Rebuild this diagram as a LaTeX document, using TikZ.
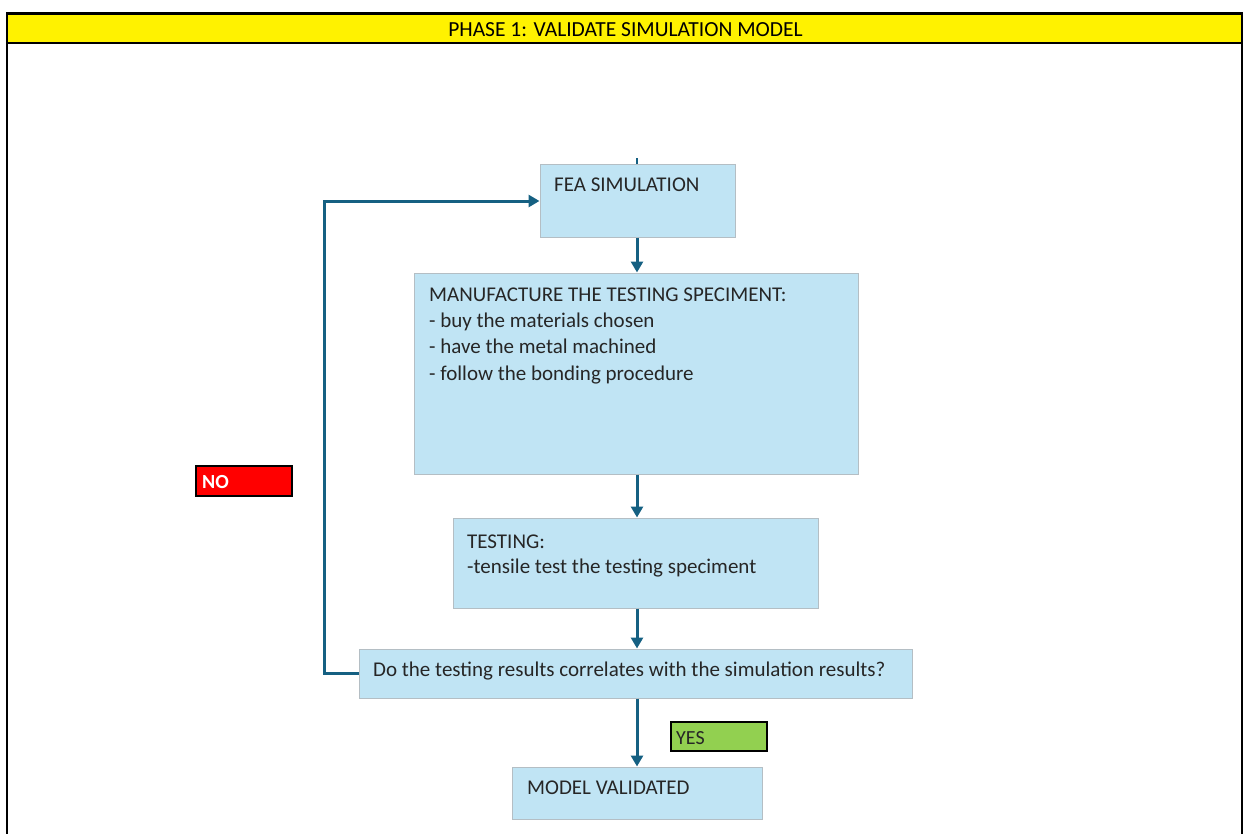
\documentclass[tikz,border=0pt]{standalone}
\usepackage{fontspec}
\setmainfont{Carlito}
\usetikzlibrary{arrows.meta}
\definecolor{boxfill}{RGB}{192,228,244}
\definecolor{boxline}{RGB}{180,190,196}
\definecolor{flow}{RGB}{21,96,130}
\definecolor{yesgreen}{RGB}{146,208,80}
\tikzset{
  stepbox/.style={draw=boxline, line width=1pt, fill=boxfill, inner sep=0pt},
  txt/.style={anchor=base west, inner sep=0pt, font=\fontsize{21}{25}\selectfont, text=black!85},
  flowarrow/.style={draw=flow, line width=3pt, -{Triangle[length=11pt,width=12pt]}},
  tag/.style={draw=black, line width=2pt, inner sep=0pt},
}
\begin{document}
\begin{tikzpicture}[x=1pt,y=-1pt]
\useasboundingbox (0,0) rectangle (1245,833);
% page frame and header band
\draw[line width=1.5pt] (7,13) rectangle (1242,845);
\node[draw=black, line width=2pt, fill=yellow, minimum width=1235pt, minimum height=29pt, inner sep=0pt] (hdr) at (624.5,28) {};
\node[anchor=base, inner sep=0pt, font=\fontsize{21.5}{24}\selectfont] (hdrt) at (625.5,36) {PHASE 1: VALIDATE SIMULATION MODEL};

% process boxes
\node[stepbox, minimum width=195pt, minimum height=73pt] (fea) at (637.5,200.5) {};
\node[txt] (feat) at (554,191) {FEA SIMULATION};

\node[stepbox, minimum width=444pt, minimum height=201pt] (man) at (636,373.5) {};
\node[txt] (man1) at (429,301.5) {MANUFACTURE THE TESTING SPECIMENT:};
\node[txt] (man2) at (429,327.5) {- buy the materials chosen};
\node[txt] (man3) at (429,353.5) {- have the metal machined};
\node[txt] (man4) at (429,380) {- follow the bonding procedure};

\node[stepbox, minimum width=365pt, minimum height=90pt] (tst) at (635.5,563) {};
\node[txt] (tst1) at (467,548) {TESTING:};
\node[txt] (tst2) at (467,573.5) {-tensile test the testing speciment};

\node[stepbox, minimum width=553pt, minimum height=49pt] (dec) at (635.5,673.5) {};
\node[txt] (dect) at (373,676) {Do the testing results correlates with the simulation results?};

\node[stepbox, minimum width=250pt, minimum height=52pt] (val) at (637,793) {};
\node[txt] (valt) at (527,794.5) {MODEL VALIDATED};

% branch tags
\node[tag, fill=red, minimum width=96pt, minimum height=30pt] (no) at (244,481) {};
\node[txt, text=white, font=\fontsize{20}{24}\selectfont\bfseries] (not) at (202,488) {NO};
\node[tag, fill=yesgreen, minimum width=96pt, minimum height=29pt] (yes) at (719,736.5) {};
\node[txt, font=\fontsize{20}{24}\selectfont] (yest) at (676,744.5) {YES};

% connectors
\coordinate (stub) at (637,158);
\draw[draw=flow, line width=1.5pt] (stub) -- (stub |- fea.north);
\draw[flowarrow] (fea.south -| stub) -- (stub |- man.north);
\draw[flowarrow] (man.south -| stub) -- (stub |- tst.north);
\draw[flowarrow] (tst.south -| stub) -- (stub |- dec.north);
\draw[flowarrow] (dec.south -| stub) -- (stub |- val.north);
\coordinate (loopa) at (324,673.5);
\coordinate (loopb) at (324,201);
\draw[flowarrow] (dec.west) -- (loopa) -- (loopb) -- (fea.west |- loopb);
\end{tikzpicture}
\end{document}
